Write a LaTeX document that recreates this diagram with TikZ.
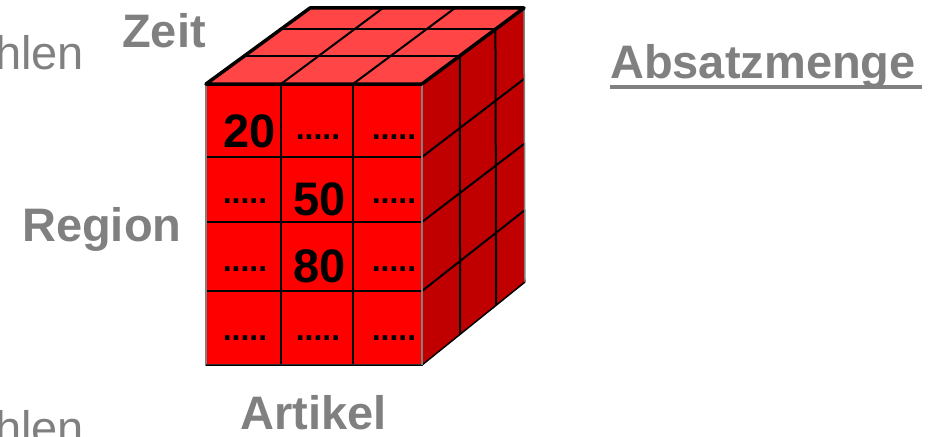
\documentclass[tikz,border=0pt]{standalone}
\usepackage{fontspec}
\setmainfont{Liberation Sans}
\definecolor{labgray}{HTML}{808080}
\definecolor{frontred}{HTML}{FF0000}
\definecolor{topred}{HTML}{FF4545}
\definecolor{sidered}{HTML}{C00000}
\begin{document}
\begin{tikzpicture}[x=1pt,y=-1pt,
  lab/.style={text=labgray,font=\fontsize{47}{56}\selectfont\bfseries,inner sep=0pt,anchor=base west},
  big/.style={text=labgray,font=\fontsize{47}{56}\selectfont,inner sep=0pt,anchor=base west},
  num/.style={font=\fontsize{47}{56}\selectfont\bfseries,inner sep=0pt,anchor=base},
  dots/.style={font=\fontsize{32}{36}\selectfont\bfseries,inner sep=0pt,anchor=base},
  grid/.style={black,line width=2pt},
  edge/.style={black,line width=3.5pt,line join=round}]
\useasboundingbox (0,0) rectangle (936,436);
\clip (0,0) rectangle (936,436);
% corners
\coordinate (F1) at (206,84);
\coordinate (F2) at (422,84);
\coordinate (F3) at (422,365);
\coordinate (F4) at (206,365);
\coordinate (B1) at (310,8);
\coordinate (B2) at (524,8);
\coordinate (B3) at (525,282);
% faces
\fill[topred] (F1)--(F2)--(B2)--(B1)--cycle;
\fill[sidered] (F2)--(B2)--(B3)--(F3)--cycle;
\fill[frontred] (F1) rectangle (F3);
% front grid
\foreach \x in {281,353} \draw[grid] (\x,84)--(\x,365);
\foreach \y in {157,222,291} \draw[grid] (206,\y)--(422,\y);
% top grid
\foreach \t in {0.37,0.72} \draw[grid] (206+102*\t,84-76*\t)--(422+102*\t,84-76*\t);
\draw[grid] (281,84)--(383,8);
\draw[grid] (353,84)--(455,8);
% side grid
\foreach \t in {0.37,0.72} \draw[grid] (422+102*\t,84-76*\t)--(422+103*\t,365-83*\t);
\draw[grid] (422,157)--(524,79);
\draw[grid] (422,222)--(524,144);
\draw[grid] (422,291)--(525,210);
% outlines
\draw[gray,line width=1.5pt] (F1) rectangle (F3);
\draw[black,line width=1.5pt] (F4)--(F3)--(B3);
\draw[gray,line width=1.5pt] (B2)--(B3);
\draw[gray,line width=1.5pt] (F2)--(F3);
\draw[edge] (F2)--(F1)--(B1)--(B2)--(F2);
% values
\node[num] (v20) at (250,147) {20};
\node[num] (v50) at (320,215) {50};
\node[num] (v80) at (320,282) {80};
\node[dots] (d12) at (318,139) {.....};
\node[dots] (d13) at (394,139) {.....};
\node[dots] (d21) at (245,203) {.....};
\node[dots] (d23) at (394,203) {.....};
\node[dots] (d31) at (245,271) {.....};
\node[dots] (d33) at (394,271) {.....};
\node[dots] (d41) at (245,340) {.....};
\node[dots] (d42) at (318,340) {.....};
\node[dots] (d43) at (394,340) {.....};
% labels
\node[lab] (zeit) at (122,48) {Zeit};
\node[lab] (region) at (22,241) {Region};
\node[lab] (artikel) at (240,429) {Artikel};
\node[lab] (absatz) at (610,78) {Absatzmenge};
\draw[labgray,line width=4pt] (absatz.base west)++(0,9) -- ++(312,0);
\node[big] (hlen1) at (-5,70) {hlen};
\node[big] (hlen2) at (-5,444) {hlen};
\end{tikzpicture}
\end{document}
